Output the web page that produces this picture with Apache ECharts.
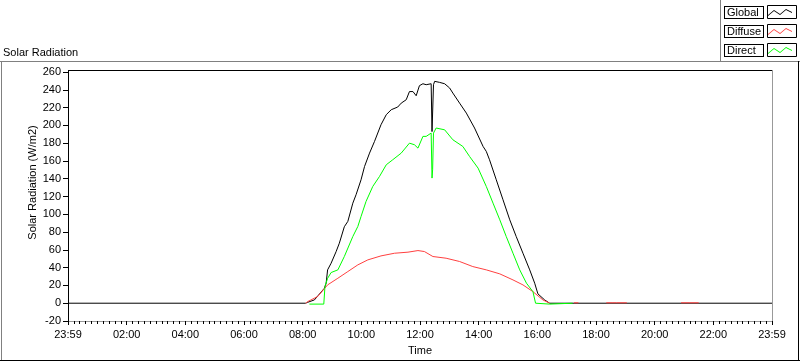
<!DOCTYPE html>
<html>
<head>
<meta charset="utf-8">
<script src="https://cdn.jsdelivr.net/npm/echarts@6/dist/echarts.min.js"></script>
<style>
  html, body { margin: 0; padding: 0; background: #fff; }
  #chart { width: 800px; height: 361px; }
</style>
</head>
<body>
<div id="chart"></div>
<script>
// time in hours since 23:59 of the previous day
const xTickLabels = ['23:59', '02:00', '04:00', '06:00', '08:00', '10:00', '12:00',
  '14:00', '16:00', '18:00', '20:00', '22:00', '23:59'];

const globalHours = [0, 8.1, 8.17, 8.4, 8.74, 8.8, 8.85, 8.97, 9.14, 9.25, 9.42, 9.54, 9.71,
  9.82, 9.99, 10.11, 10.28, 10.45, 10.67, 10.85, 11.02, 11.24, 11.36, 11.53, 11.64, 11.76,
  11.87, 11.98, 12.1, 12.21, 12.38, 12.41, 12.43, 12.46, 12.5, 12.67, 12.84, 13.01, 13.12,
  13.35, 13.58, 13.86, 14.15, 14.26, 14.37, 14.6, 14.83, 15.06, 15.28, 15.51, 15.74, 15.91,
  16.02, 16.25, 16.42, 24];
const globalValues = [0, 0, 1, 3.7, 16.8, 22.5, 37.5, 45, 58, 67.5, 86, 92, 112.5,
  122, 138.8, 153.8, 168.8, 182, 200.7, 212, 217.6, 220.6, 225, 228.8, 238, 238,
  233.3, 244.6, 246.8, 245.7, 246.8, 193, 195, 245.7, 249.5, 248.3, 246.8, 242, 236.3,
  225, 213.8, 197, 176.3, 170.7, 161.3, 138.8, 116.3, 93.8, 75, 56.2, 37.5, 22.5,
  10.5, 3.7, 0, 0];

const diffuseHours = [8.1, 8.17, 8.51, 8.85, 9.2, 9.54, 9.88, 10.22, 10.67, 11.13, 11.59,
  11.93, 12.15, 12.44, 12.89, 13.35, 13.8, 14.26, 14.72, 15.17, 15.51, 15.85, 16.19, 16.42,
  16.6, 17.25, 17.4, 17.5, 18.35, 18.55, 18.7, 19.05, 19.1, 20.9, 21.2, 21.5, 21.6];
const diffuseValues = [0, 1.8, 7.5, 20.6, 28.1, 35.6, 43.1, 48.7, 53.2, 56.2, 57.4,
  59.2, 58.1, 52.5, 50.6, 46.9, 41.2, 37.5, 33, 26.2, 20.6, 13, 3.7, 0,
  null, 0.5, 0.5, null, 0.5, 0.5, 0.5, 0.5, null, 0.5, 0.5, 0.5, null];

const directHours = [8.23, 8.72, 8.76, 8.85, 8.97, 9.2, 9.42, 9.71, 9.88, 9.99, 10.16,
  10.39, 10.62, 10.85, 11.07, 11.36, 11.64, 11.81, 11.93, 12.1, 12.21, 12.38, 12.41, 12.43,
  12.46, 12.55, 12.84, 13.12, 13.46, 13.69, 13.98, 14.26, 14.49, 14.72, 14.94, 15.17, 15.4,
  15.63, 15.85, 15.94, 15.97, 16.42, 16.45, 17.2];
const directValues = [-1, -1, 18.7, 28, 34.5, 37.5, 52.5, 75, 86.3, 97.5, 114.4,
  131.3, 142.6, 155.7, 161.3, 168.8, 180, 178.2, 174.4, 187.6, 187.6, 191.3, 140.7, 150,
  191.3, 197, 195, 183.8, 176.3, 165, 151.9, 131.3, 112.5, 93.8, 75, 56.2, 37.5,
  22.5, 13, 0, -1, -1, 0, 0];

const pairs = (hs, vs) => hs.map((h, i) => [h, vs[i] === null ? '-' : vs[i]]);

const font = "'Liberation Sans', Arial, sans-serif";
const zigzag = 'path://M0,6 L6,1 L12,5 L18,0 L24,3 L24,4.2 L18,1.2 L12,6.2 L6,2.2 L0,7.2 Z';

const chart = echarts.init(document.getElementById('chart'));
chart.setOption({
  animation: false,
  backgroundColor: '#fff',
  title: {
    text: 'Solar Radiation',
    left: 3, top: 47, padding: 0,
    textStyle: { fontFamily: font, fontSize: 11, fontWeight: 'normal', color: '#000' }
  },
  legend: {
    orient: 'vertical',
    left: 724, top: 6,
    align: 'right',
    itemGap: 6,
    itemWidth: 24,
    itemHeight: 8,
    icon: zigzag,
    padding: 0,
    formatter: '{box|{name}}',
    textStyle: {
      fontFamily: font, fontSize: 11, color: '#000',
      rich: {
        box: {
          fontFamily: font, fontSize: 11, color: '#000',
          borderColor: '#000', borderWidth: 1, backgroundColor: '#fff',
          width: 35, lineHeight: 14, padding: [0, 1, 0, 2], align: 'left'
        }
      }
    },
    data: ['Global', 'Diffuse', 'Direct']
  },
  grid: { left: 68, right: 28, top: 72, bottom: 40 },
  xAxis: {
    type: 'value',
    min: 0, max: 24, interval: 2,
    name: 'Time',
    nameLocation: 'middle',
    nameGap: 24,
    nameMoveOverlap: false,
    nameTextStyle: { fontFamily: font, fontSize: 11, color: '#000' },
    axisLine: { onZero: false, lineStyle: { color: '#999', width: 1 } },
    axisTick: { length: 4, lineStyle: { color: '#000' } },
    minorTick: { show: true, splitNumber: 10, length: 3, lineStyle: { color: '#000' } },
    axisLabel: {
      margin: 8, fontFamily: font, fontSize: 11, color: '#000',
      formatter: v => xTickLabels[Math.round(v / 2)]
    },
    splitLine: { show: false }
  },
  yAxis: {
    type: 'value',
    min: -20, max: 260, interval: 20,
    name: 'Solar Radiation (W/m2)',
    nameLocation: 'middle',
    nameGap: 30,
    nameMoveOverlap: false,
    nameTextStyle: { fontFamily: font, fontSize: 11, color: '#000', padding: [0, 0, 0, 28] },
    axisLine: { show: true, lineStyle: { color: '#000', width: 1 } },
    axisTick: { show: true, length: 5, lineStyle: { color: '#000' } },
    axisLabel: { margin: 7, fontFamily: font, fontSize: 11, color: '#000' },
    splitLine: { show: false }
  },
  graphic: [
    // panel frame
    { type: 'line', shape: { x1: 0, y1: 61.5, x2: 800, y2: 61.5 }, style: { stroke: '#808080', lineWidth: 1 } },
    { type: 'line', shape: { x1: 720.5, y1: 0, x2: 720.5, y2: 61 }, style: { stroke: '#808080', lineWidth: 1 } },
    { type: 'line', shape: { x1: 1.5, y1: 61, x2: 1.5, y2: 361 }, style: { stroke: '#808080', lineWidth: 1 } },
    { type: 'line', shape: { x1: 0, y1: 360.5, x2: 800, y2: 360.5 }, style: { stroke: '#000', lineWidth: 1 } },
    { type: 'line', shape: { x1: 798.5, y1: 61, x2: 798.5, y2: 361 }, style: { stroke: '#000', lineWidth: 1 } },
    // plot border
    { type: 'line', shape: { x1: 68, y1: 70.5, x2: 772, y2: 70.5 }, style: { stroke: '#000', lineWidth: 1 } },
    { type: 'line', shape: { x1: 68.5, y1: 70, x2: 68.5, y2: 72 }, style: { stroke: '#000', lineWidth: 1 } },
    { type: 'line', shape: { x1: 772.5, y1: 70, x2: 772.5, y2: 321 }, style: { stroke: '#999', lineWidth: 1 } },
    // legend sample boxes
    { type: 'rect', shape: { x: 767.5, y: 5.5, width: 29, height: 13 }, style: { fill: 'none', stroke: '#000', lineWidth: 1 }, z: 1 },
    { type: 'rect', shape: { x: 767.5, y: 24.5, width: 29, height: 13 }, style: { fill: 'none', stroke: '#000', lineWidth: 1 }, z: 1 },
    { type: 'rect', shape: { x: 767.5, y: 43.5, width: 29, height: 13 }, style: { fill: 'none', stroke: '#000', lineWidth: 1 }, z: 1 }
  ],
  series: [
    {
      name: 'Global', type: 'line', showSymbol: false,
      color: '#000', lineStyle: { width: 1, color: '#000' },
      data: pairs(globalHours, globalValues)
    },
    {
      name: 'Diffuse', type: 'line', showSymbol: false,
      color: '#ff4040', lineStyle: { width: 1, color: '#ff4040' },
      data: pairs(diffuseHours, diffuseValues)
    },
    {
      name: 'Direct', type: 'line', showSymbol: false,
      color: '#00ff00', lineStyle: { width: 1, color: '#00ff00' },
      data: pairs(directHours, directValues)
    }
  ]
});
</script>
</body>
</html>
